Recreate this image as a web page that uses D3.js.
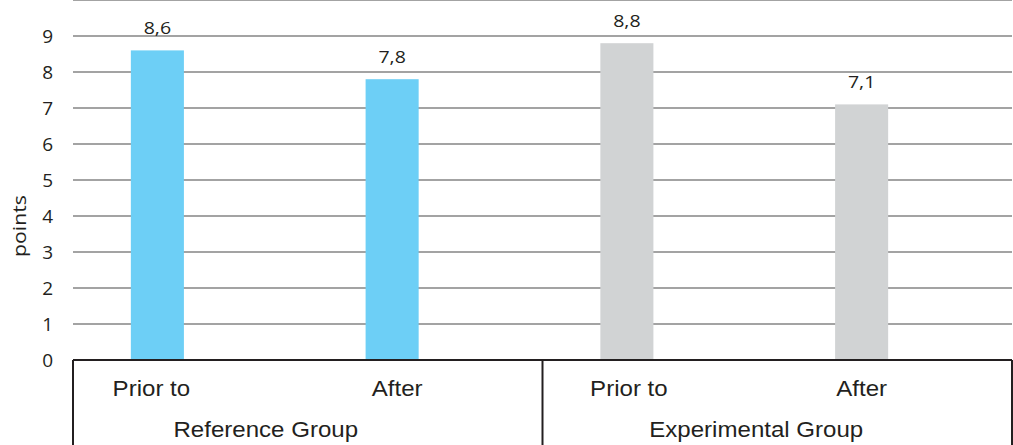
<!DOCTYPE html>
<html>
<head>
<meta charset="utf-8">
<script src="https://cdn.jsdelivr.net/npm/d3@7"></script>
<style>
  html, body { margin: 0; padding: 0; background: #fff; }
  svg { display: block; }
</style>
</head>
<body>
<svg id="chart" width="1013" height="445"></svg>
<script>
// ---- data ----
const categories = ["Prior to", "After", "Prior to", "After"];
const groups = ["Reference Group", "Experimental Group"];
const groupOfCategory = [0, 0, 1, 1];
const values = [8.6, 7.8, 8.8, 7.1];
const valueLabels = ["8,6", "7,8", "8,8", "7,1"];
const barColors = ["#6dcff6", "#6dcff6", "#d1d3d4", "#d1d3d4"];
const yTicks = [0, 1, 2, 3, 4, 5, 6, 7, 8, 9];
const gridTicks = [1, 2, 3, 4, 5, 6, 7, 8, 9, 10];
const yLabel = "points";

// ---- layout ----
const svg = d3.select("#chart");
const boxLeft = 73, boxRight = 1012, plotBottom = 360, plotTop = 0;
const barShift = -33; // bars are offset left relative to the axis box
const catLabelDx = [-6, 5, 2, 0];
const groupLabelDx = [-9, 12];

const keys = categories.map((c, i) => i);
const x = d3.scaleBand()
  .domain(keys)
  .range([boxLeft + barShift, boxRight + barShift])
  .paddingInner(0.774)
  .paddingOuter(0.387);

const y = d3.scaleLinear().domain([0, 10]).range([plotBottom, plotTop]);

// gridlines
svg.append("g").selectAll("line")
  .data(gridTicks)
  .join("line")
  .attr("x1", boxLeft).attr("x2", boxRight)
  .attr("y1", d => y(d)).attr("y2", d => y(d))
  .attr("stroke", "#a3a3a3")
  .attr("stroke-width", 2);

// bars
svg.append("g").selectAll("rect")
  .data(values)
  .join("rect")
  .attr("x", (d, i) => x(i))
  .attr("width", x.bandwidth())
  .attr("y", d => y(d))
  .attr("height", d => y(0) - y(d))
  .attr("fill", (d, i) => barColors[i]);

// value labels
svg.append("g").selectAll("text")
  .data(values)
  .join("text")
  .attr("transform", (d, i) => `translate(${x(i) + x.bandwidth() / 2},${y(d) - 16}) scale(1.15,1)`)
  .attr("text-anchor", "middle")
  .attr("font-family", "'Open Sans', 'Noto Sans', sans-serif")
  .attr("font-size", 17)
  .attr("fill", "#231f20")
  .text((d, i) => valueLabels[i]);

// y tick labels
const yAxis = d3.axisLeft(y).tickValues(yTicks).tickSize(0).tickPadding(0).tickFormat(d3.format("d"));
const yg = svg.append("g").attr("transform", `translate(53,0)`).call(yAxis);
yg.select(".domain").remove();
yg.selectAll("text")
  .attr("font-family", "'Open Sans', 'Noto Sans', sans-serif")
  .attr("font-size", 19)
  .attr("fill", "#231f20")
  .attr("dy", "0.36em");

// y axis title
svg.append("text")
  .attr("transform", `translate(26,226) rotate(-90) scale(1.12,1)`)
  .attr("text-anchor", "middle")
  .attr("font-family", "'Open Sans', 'Noto Sans', sans-serif")
  .attr("font-size", 19)
  .attr("fill", "#231f20")
  .text(yLabel);

// category axis box
const step = x.step();
const box = svg.append("g").attr("stroke", "#231f20").attr("stroke-width", 2).attr("fill", "none");
box.append("line").attr("x1", boxLeft).attr("x2", boxRight).attr("y1", plotBottom).attr("y2", plotBottom);
[0, 2, 4].forEach(k => {
  const xx = boxLeft + k * step;
  box.append("line").attr("x1", xx).attr("x2", xx).attr("y1", plotBottom).attr("y2", 445);
});

// category labels
svg.append("g").selectAll("text")
  .data(categories)
  .join("text")
  .attr("transform", (d, i) => `translate(${x(i) + x.bandwidth() / 2 + catLabelDx[i]},396) scale(1.12,1)`)
  .attr("text-anchor", "middle")
  .attr("font-family", "'Liberation Sans', Arial, sans-serif")
  .attr("font-size", 21.5)
  .attr("fill", "#231f20")
  .text(d => d);

// group labels
svg.append("g").selectAll("text")
  .data(groups)
  .join("text")
  .attr("transform", (d, gi) => {
    const idx = keys.filter(k => groupOfCategory[k] === gi);
    const cx = d3.mean(idx, k => x(k) + x.bandwidth() / 2) + groupLabelDx[gi];
    return `translate(${cx},437) scale(1.12,1)`;
  })
  .attr("text-anchor", "middle")
  .attr("font-family", "'Liberation Sans', Arial, sans-serif")
  .attr("font-size", 21.5)
  .attr("fill", "#231f20")
  .text(d => d);
</script>
</body>
</html>
